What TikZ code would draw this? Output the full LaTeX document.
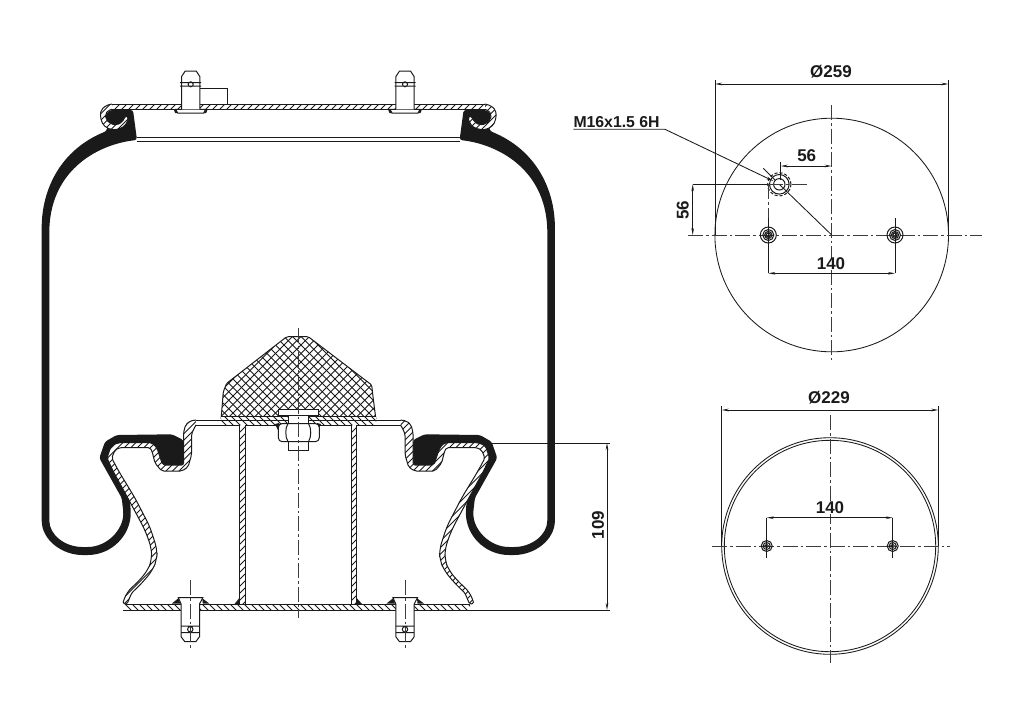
\documentclass[tikz,border=0pt]{standalone}
\usepackage{fontspec}
\setmainfont{Liberation Sans}
\usetikzlibrary{arrows.meta}
\definecolor{ink}{HTML}{1A1A1A}
\definecolor{cl}{HTML}{3C3C3C}
\tikzset{
  outl/.style={draw=ink,line width=1pt},
  hl/.style={draw=ink,line width=0.9pt},
  glob/.style={},
  center line/.style={draw=cl,line width=0.9pt,dash pattern=on 15pt off 3pt on 2.5pt off 3pt},
  thin line/.style={draw=ink,line width=0.85pt},
  dim/.style={draw=ink,line width=0.85pt,{Stealth[length=7pt,width=2.6pt]}-{Stealth[length=7pt,width=2.6pt]}},
  lab/.style={font=\fontsize{17}{20}\selectfont\bfseries,text=ink,inner sep=0pt},
  labm/.style={font=\fontsize{15.8}{18}\selectfont\bfseries,text=ink,inner sep=0pt},
}
% hatching in page coordinates, whatever the mirror in force
\newcommand\hatchF[1]{\begin{scope}[glob]\pgfmathtruncatemacro\nh{1720/#1}\foreach \k in {0,...,\nh}{\draw[hl] ({\k*#1},0)--({\k*#1-724},724);}\end{scope}}
\newcommand\hatchB[1]{\begin{scope}[glob]\pgfmathtruncatemacro\nh{1750/#1}\foreach \k in {0,...,\nh}{\draw[hl] ({-724+\k*#1},0)--({\k*#1},724);}\end{scope}}
\newcommand\rubberside{%
  \fill[ink,rounded corners=2.5pt] (110,110)--(133,110)--(137,140)
    .. controls (100,144) and (52,168) .. (49.3,230)--(49.3,518)
    .. controls (49.3,535) and (65,547) .. (85,547)
    .. controls (107,547) and (123,530) .. (123.3,511.7)
    --(121.7,498)--(99.3,458)--(105,441.7)--(116.7,435)--(172,434.3)--(183.5,440)--(183.5,465)
    --(162.7,465)--(151,446)--(118,446)--(108,458)--(130,502)--(130.7,510)
    .. controls (131,535) and (112,555) .. (85,555)
    .. controls (62,555) and (41.7,540) .. (41.7,518)--(41.7,230)
    .. controls (41.7,190) and (60,150) .. (106.7,131)--(108,122)--(105,115)--cycle;
  % curled edge of the top plate
  \def\curl{(112,104)--(106,105.5)--(101,110)--(100.3,117)--(103,125)--(110,129.5)--(118,129.5)--(125,126)--(129,118)--(126,115.5)--(122,122)--(117,125)--(111,124)--(106,119.5)--(105.5,114)--(108,110.5)--(112,109.3)}
  \fill[white,rounded corners=2pt] \curl--cycle;
  \begin{scope}\clip[rounded corners=2pt] \curl--cycle; \hatchF{6.5}\end{scope}
  \draw[outl,rounded corners=2pt] \curl;
  % piston wall
  \def\wall{(196,420)--(190,421)--(185.5,425)--(183.5,433)--(183.5,465)--(162.7,465)--(157,448)--(152,442.7)--(118,442.7)--(111,446)--(107,458)[rounded corners=7pt]--(113,471)--(130,502)--(145,530)--(151.5,548)--(151.7,560)--(148,570)--(138,582)--(126.7,592)[rounded corners=1.5pt]--(122.7,603.5)--(127,604)--(131.7,593)[rounded corners=7pt]--(143,582)--(152.7,570)--(156.7,560)--(157.3,550)--(150,527)--(135,498)--(118,470)[rounded corners=2pt]--(111.7,458)--(115,450)--(120,447.5)--(150,447.5)--(152,451)--(155,463)--(161.7,471)--(182,471)--(188,467)--(191.5,455)--(191.5,434)--(195,426.5)--(196,425)}
  \fill[white,rounded corners=2pt] \wall--cycle;
  \begin{scope}\clip[rounded corners=2pt] \wall--cycle; \hatchF{6.5}\end{scope}
  \draw[outl,rounded corners=2pt] \wall;
}
\newcommand\topstud[1]{%
  \begin{scope}[shift={(#1,0)}]
    \fill[ink] (-17,109.3)--(-14.5,109.3)--(-13,113)--(-15.5,113)--cycle;
    \fill[ink] (17,109.3)--(14.5,109.3)--(13,113)--(15.5,113)--cycle;
    \filldraw[fill=white,outl] (-15,109.3)--(-13,113)--(13,113)--(15,109.3)--cycle;
    \filldraw[fill=white,outl] (-9.2,109.3)--(-9.2,76.7)--(-5.5,71)--(5.5,71)--(9.2,76.7)--(9.2,109.3);
    \draw[outl] (-10.5,82.7)--(10.5,82.7) (-10.5,86)--(10.5,86) (0,84.3) circle (2.5);
  \end{scope}}
\newcommand\botstud[1]{%
  \begin{scope}[shift={(#1,0)}]
    \fill[ink] (-18.5,603.5)--(-12,598.3)--(-10,603.5)--cycle;
    \fill[ink] (19,603.5)--(12,598.3)--(12.5,603.5)--cycle;
    \filldraw[fill=white,outl] (-12,597.7)--(12.5,597.7)--(9.2,604)--(9.2,636.7)--(5.5,641.7)--(-5.5,641.7)--(-9.2,636.7)--(-9.2,604)--cycle;
    \draw[outl] (-9.2,626)--(9.2,626) (-9.2,632.7)--(9.2,632.7) (0,629.3) circle (2.7);
    \draw[center line] (0,580)--(0,650);
  \end{scope}}
\begin{document}
\begin{tikzpicture}[x=1pt,y=-1pt]
\useasboundingbox (0,0) rectangle (1024,724);
\fill[white] (0,0) rectangle (1024,724);

% ---- rubber buffer
\def\buf{(286.7,336.7)--(308.3,336.7)--(371.7,385)--(373,396.7)--(376,420)--(221,420)--(223.3,391.7)--(226.7,383.3)--cycle}
\begin{scope}\clip \buf; \hatchF{8.5}\hatchB{8.5}\end{scope}
\draw[outl,rounded corners=1.5pt] \buf;

% ---- plate under the buffer
\fill[white] (196,420) rectangle (402,425);
\begin{scope}\clip (221,416) rectangle (376,425); \fill[white] (221,416) rectangle (376,425); \hatchB{7}\end{scope}
\draw[outl] (221,416)--(376,416) (196,420)--(400.6,420) (196,425)--(400.6,425);

% ---- tube
\fill[white] (239.3,425) rectangle (245,604) (351,425) rectangle (356.7,604);
\begin{scope}\clip (239.3,425) rectangle (245,604) (351,425) rectangle (356.7,604); \hatchF{7}\end{scope}
\draw[outl] (239.3,425)--(239.3,604) (245,425)--(245,604) (351,425)--(351,604) (356.7,425)--(356.7,604);
\fill[ink] (234.5,604)--(239.3,598)--(240,604)--cycle;
\fill[ink] (356.7,598)--(362,604)--(356.7,604)--cycle;

% ---- bottom plate
\fill[white] (125,604) rectangle (470,610);
\begin{scope}\clip (125,604) rectangle (470,610); \hatchB{7}\end{scope}
\draw[outl] (125,604)--(470,604) (123,610)--(470,610);

% ---- both sides of bellows and piston wall
\rubberside
\begin{scope}[shift={(596.6,0)},xscale=-1,glob/.style={xscale=-1,shift={(-596.6,0)}}]
\rubberside
\end{scope}

% ---- top plate
\fill[white] (112,104) rectangle (484.6,109.3);
\begin{scope}\clip (112,104) rectangle (484.6,109.3); \hatchF{7}\end{scope}
\draw[outl] (112,104)--(484.6,104) (112,109.3)--(484.6,109.3);
\draw[outl] (136.7,137.3)--(460,137.3) (136.7,141)--(460,141);
\draw[thin line] (200,88.7)--(227.3,88.7)--(227.3,104);
\topstud{190.7}
\topstud{405}
\botstud{190.3}
\botstud{405}

% ---- bolt and nut
\fill[ink] (275,424)--(279,423)--(279,432)--cycle;
\fill[ink] (321,424)--(317,423)--(317,432)--cycle;
\filldraw[fill=white,outl] (278.3,409.5) rectangle (318,415);
\filldraw[fill=white,outl] (288.3,415) rectangle (308.3,424);
\filldraw[fill=white,outl] (288.3,441) rectangle (308.3,450);
\filldraw[fill=white,outl,rounded corners=4pt] (278.3,423.5) rectangle (319.3,441.7);
\draw[outl] (288,423.5) .. controls (285,428) and (285,437) .. (288,441.7);
\draw[outl] (308.5,423.5) .. controls (311.5,428) and (311.5,437) .. (308.5,441.7);
\draw[center line] (298.3,328)--(298.3,618);

% ---- dimension 109
\coordinate (a1) at (491.7,443); \coordinate (a2) at (610,443);
\coordinate (b1) at (470,610); \coordinate (b2) at (610,610);
\coordinate (c1) at (607,443); \coordinate (c2) at (607,610);
\draw[thin line] (a1)--(a2) (b1)--(b2);
\draw[dim] (c1)--(c2);
\node[lab,rotate=90] (t109) at (598,525) {109};

% ---- upper view
\coordinate (uc) at (831.7,235);
\coordinate (uh) at (779.3,184.3);
\coordinate (ul) at (768.3,235);
\coordinate (ur) at (895,235);
\draw[thin line] (uc) circle (116.8);
\draw[center line] (688,235)--(982,235);
\draw[center line] (831.7,105)--(831.7,360);
% Ø259
\draw[thin line] (715,80)--(715,235) (948.5,80)--(948.5,235);
\draw[dim] (715,84)--(948.5,84);
\node[lab] (t259) at (831,72) {Ø259};
% M16
\node[labm,anchor=south west] (tm) at (573.3,127.5) {M16x1.5 6H};
\coordinate (l1) at (573.3,129.3); \coordinate (l2) at (665,129.3); \coordinate (l3) at (773.3,181);
\draw[thin line,-{Stealth[length=7pt,width=2.6pt]}] (l1)--(l2)--(l3);
\draw[outl] (uh) circle (9.8) (uh) circle (5.7);
\draw[outl,densely dashed] (uh) circle (11.7);
\draw[thin line] (uh)--(uc);
\draw[thin line] (763.3,168.3)--(775,180);
\draw[center line] (768,184.3)--(808,184.3);
% 56 horizontal
\draw[thin line] (780.7,161.7)--(780.7,180);
\draw[dim] (780.7,166)--(831.7,166);
\node[lab] (t56a) at (806.7,156) {56};
% 56 vertical
\draw[thin line] (692.7,184.3)--(768,184.3);
\draw[dim] (692.7,184.3)--(692.7,235);
\node[lab,rotate=90] (t56b) at (682.7,210) {56};
% holes
\draw[center line] (768.3,184.3)--(768.3,218);
\foreach \n in {ul,ur}{
  \draw[outl] (\n) circle (8) (\n) circle (5.5) (\n) circle (3.6) (\n) circle (2);
  \draw[thin line] (\n)+(0,-17)--+(0,38.3);
}
\draw[dim] (768.3,273.3)--(895,273.3);
\node[lab,fill=white,inner xsep=2pt] (t140a) at (831,264) {140};

% ---- lower view
\coordinate (lc) at (830,546);
\coordinate (la) at (766.7,546);
\coordinate (lb) at (892.7,546);
\draw[thin line] (lc) circle (108.3);
\draw[thin line] (lc) circle (105.7);
\draw[center line] (712,546)--(950,546);
\draw[center line] (830,415)--(830,663);
\draw[thin line] (721.7,406)--(721.7,546) (938.3,406)--(938.3,546);
\draw[dim] (721.7,410)--(938.3,410);
\node[lab] (t229) at (829,398) {Ø229};
\foreach \n in {la,lb}{
  \draw[outl] (\n) circle (5.5) (\n) circle (3.5) (\n) circle (1.8);
  \draw[thin line] (\n)+(0,-28.3)--+(0,12);
}
\draw[dim] (766.7,517.7)--(892.7,517.7);
\node[lab,fill=white,inner xsep=2pt] (t140b) at (830,507.7) {140};
\end{tikzpicture}
\end{document}
